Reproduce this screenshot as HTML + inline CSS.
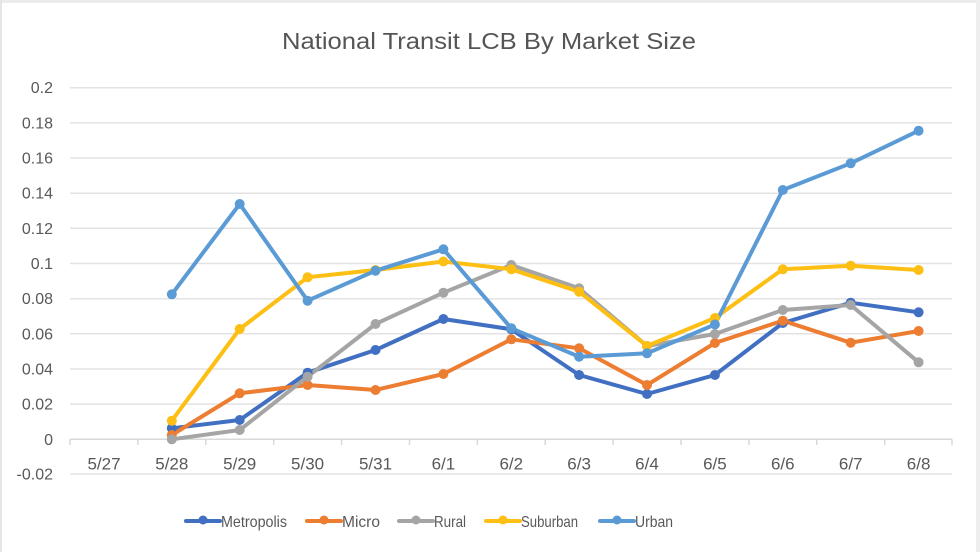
<!DOCTYPE html>
<html>
<head>
<meta charset="utf-8">
<style>
html,body{margin:0;padding:0;background:#fff;}
svg{display:block;}
text{font-family:"Liberation Sans",Arial,sans-serif;}
</style>
</head>
<body>
<svg width="980" height="552" viewBox="0 0 980 552" xmlns="http://www.w3.org/2000/svg">
<rect x="0" y="0" width="980" height="552" fill="#ffffff"/>
<!-- frame -->
<rect x="0" y="0" width="980" height="3" fill="#ececec"/>
<rect x="0" y="0" width="2" height="552" fill="#e6e6e6"/>
<rect x="976" y="0" width="4" height="552" fill="#eeeeee"/>

<!-- title -->
<text x="489" y="49" font-size="23" fill="#555555" text-anchor="middle" textLength="414" lengthAdjust="spacingAndGlyphs">National Transit LCB By Market Size</text>

<!-- gridlines -->
<g stroke="#e3e3e3" stroke-width="1.5">
<line x1="70" y1="87.7" x2="952" y2="87.7"/>
<line x1="70" y1="122.9" x2="952" y2="122.9"/>
<line x1="70" y1="158.0" x2="952" y2="158.0"/>
<line x1="70" y1="193.2" x2="952" y2="193.2"/>
<line x1="70" y1="228.3" x2="952" y2="228.3"/>
<line x1="70" y1="263.5" x2="952" y2="263.5"/>
<line x1="70" y1="298.7" x2="952" y2="298.7"/>
<line x1="70" y1="333.8" x2="952" y2="333.8"/>
<line x1="70" y1="369.0" x2="952" y2="369.0"/>
<line x1="70" y1="404.1" x2="952" y2="404.1"/>
<line x1="70" y1="474.0" x2="952" y2="474.0"/>
</g>
<!-- zero axis -->
<line x1="70" y1="439.3" x2="952" y2="439.3" stroke="#d9d9d9" stroke-width="1.5"/>
<g stroke="#d9d9d9" stroke-width="1.5">
<line x1="70" y1="439.3" x2="70" y2="445"/>
<line x1="137.9" y1="439.3" x2="137.9" y2="445"/>
<line x1="205.8" y1="439.3" x2="205.8" y2="445"/>
<line x1="273.7" y1="439.3" x2="273.7" y2="445"/>
<line x1="341.6" y1="439.3" x2="341.6" y2="445"/>
<line x1="409.5" y1="439.3" x2="409.5" y2="445"/>
<line x1="477.4" y1="439.3" x2="477.4" y2="445"/>
<line x1="545.2" y1="439.3" x2="545.2" y2="445"/>
<line x1="613.1" y1="439.3" x2="613.1" y2="445"/>
<line x1="681.0" y1="439.3" x2="681.0" y2="445"/>
<line x1="748.9" y1="439.3" x2="748.9" y2="445"/>
<line x1="816.8" y1="439.3" x2="816.8" y2="445"/>
<line x1="884.7" y1="439.3" x2="884.7" y2="445"/>
<line x1="952" y1="439.3" x2="952" y2="445"/>
</g>

<!-- y labels -->
<g font-size="16" fill="#595959" text-anchor="end">
<text x="53" y="93.2">0.2</text>
<text x="53" y="128.4">0.18</text>
<text x="53" y="163.5">0.16</text>
<text x="53" y="198.7">0.14</text>
<text x="53" y="233.8">0.12</text>
<text x="53" y="269.0">0.1</text>
<text x="53" y="304.2">0.08</text>
<text x="53" y="339.3">0.06</text>
<text x="53" y="374.5">0.04</text>
<text x="53" y="409.6">0.02</text>
<text x="53" y="444.8">0</text>
<text x="53" y="479.5">-0.02</text>
</g>

<!-- x labels -->
<g font-size="17" fill="#595959" text-anchor="middle">
<text x="104" y="469.5">5/27</text>
<text x="171.8" y="469.5">5/28</text>
<text x="239.7" y="469.5">5/29</text>
<text x="307.6" y="469.5">5/30</text>
<text x="375.5" y="469.5">5/31</text>
<text x="443.4" y="469.5">6/1</text>
<text x="511.3" y="469.5">6/2</text>
<text x="579.1" y="469.5">6/3</text>
<text x="647" y="469.5">6/4</text>
<text x="714.9" y="469.5">6/5</text>
<text x="782.8" y="469.5">6/6</text>
<text x="850.7" y="469.5">6/7</text>
<text x="918.6" y="469.5">6/8</text>
</g>

<!-- series -->
<g fill="none" stroke-width="4" stroke-linejoin="round" stroke-linecap="round">
<!-- Metropolis -->
<polyline stroke="#4170c2" points="171.8,428.3 239.7,420 307.6,372.7 375.5,350 443.4,319 511.3,329.3 579.1,375 647,394 714.9,375 782.8,323 850.7,302.7 918.6,312.3"/>
<!-- Micro -->
<polyline stroke="#ed7d31" points="171.8,435 239.7,393.3 307.6,385 375.5,390 443.4,374 511.3,339.3 579.1,348.3 647,385 714.9,343 782.8,320.7 850.7,342.7 918.6,331"/>
<!-- Rural -->
<polyline stroke="#a5a5a5" points="171.8,439.3 239.7,430 307.6,376.7 375.5,324 443.4,292.7 511.3,265 579.1,288.3 647,346 714.9,334 782.8,310 850.7,305 918.6,362.3"/>
<!-- Suburban -->
<polyline stroke="#fdbf13" points="171.8,420.7 239.7,329 307.6,277.3 375.5,270 443.4,261.5 511.3,269.3 579.1,291.7 647,346 714.9,318 782.8,269.3 850.7,265.7 918.6,270"/>
<!-- Urban -->
<polyline stroke="#5b9bd5" points="171.8,294.3 239.7,204 307.6,300.7 375.5,270.7 443.4,249.3 511.3,328.3 579.1,356.7 647,353.3 714.9,324.5 782.8,190 850.7,163.3 918.6,130.7"/>
</g>
<!-- markers -->
<g fill="#4170c2">
<circle cx="171.8" cy="428.3" r="5"/><circle cx="239.7" cy="420" r="5"/><circle cx="307.6" cy="372.7" r="5"/><circle cx="375.5" cy="350" r="5"/><circle cx="443.4" cy="319" r="5"/><circle cx="511.3" cy="329.3" r="5"/><circle cx="579.1" cy="375" r="5"/><circle cx="647" cy="394" r="5"/><circle cx="714.9" cy="375" r="5"/><circle cx="782.8" cy="323" r="5"/><circle cx="850.7" cy="302.7" r="5"/><circle cx="918.6" cy="312.3" r="5"/>
</g>
<g fill="#ed7d31">
<circle cx="171.8" cy="435" r="5"/><circle cx="239.7" cy="393.3" r="5"/><circle cx="307.6" cy="385" r="5"/><circle cx="375.5" cy="390" r="5"/><circle cx="443.4" cy="374" r="5"/><circle cx="511.3" cy="339.3" r="5"/><circle cx="579.1" cy="348.3" r="5"/><circle cx="647" cy="385" r="5"/><circle cx="714.9" cy="343" r="5"/><circle cx="782.8" cy="320.7" r="5"/><circle cx="850.7" cy="342.7" r="5"/><circle cx="918.6" cy="331" r="5"/>
</g>
<g fill="#a5a5a5">
<circle cx="171.8" cy="439.3" r="5"/><circle cx="239.7" cy="430" r="5"/><circle cx="307.6" cy="376.7" r="5"/><circle cx="375.5" cy="324" r="5"/><circle cx="443.4" cy="292.7" r="5"/><circle cx="511.3" cy="265" r="5"/><circle cx="579.1" cy="288.3" r="5"/><circle cx="647" cy="346" r="5"/><circle cx="714.9" cy="334" r="5"/><circle cx="782.8" cy="310" r="5"/><circle cx="850.7" cy="305" r="5"/><circle cx="918.6" cy="362.3" r="5"/>
</g>
<g fill="#fdbf13">
<circle cx="171.8" cy="420.7" r="5"/><circle cx="239.7" cy="329" r="5"/><circle cx="307.6" cy="277.3" r="5"/><circle cx="375.5" cy="270" r="5"/><circle cx="443.4" cy="261.5" r="5"/><circle cx="511.3" cy="269.3" r="5"/><circle cx="579.1" cy="291.7" r="5"/><circle cx="647" cy="346" r="5"/><circle cx="714.9" cy="318" r="5"/><circle cx="782.8" cy="269.3" r="5"/><circle cx="850.7" cy="265.7" r="5"/><circle cx="918.6" cy="270" r="5"/>
</g>
<g fill="#5b9bd5">
<circle cx="171.8" cy="294.3" r="5"/><circle cx="239.7" cy="204" r="5"/><circle cx="307.6" cy="300.7" r="5"/><circle cx="375.5" cy="270.7" r="5"/><circle cx="443.4" cy="249.3" r="5"/><circle cx="511.3" cy="328.3" r="5"/><circle cx="579.1" cy="356.7" r="5"/><circle cx="647" cy="353.3" r="5"/><circle cx="714.9" cy="324.5" r="5"/><circle cx="782.8" cy="190" r="5"/><circle cx="850.7" cy="163.3" r="5"/><circle cx="918.6" cy="130.7" r="5"/>
</g>

<!-- legend -->
<g stroke-width="4" stroke-linecap="round">
<line x1="186" y1="521" x2="220" y2="521" stroke="#4170c2"/>
<line x1="307" y1="521" x2="341" y2="521" stroke="#ed7d31"/>
<line x1="399" y1="521" x2="433" y2="521" stroke="#a5a5a5"/>
<line x1="486" y1="521" x2="520" y2="521" stroke="#fdbf13"/>
<line x1="600" y1="521" x2="634" y2="521" stroke="#5b9bd5"/>
</g>
<circle cx="203" cy="520" r="4.5" fill="#4170c2"/>
<circle cx="324" cy="520" r="4.5" fill="#ed7d31"/>
<circle cx="416" cy="520" r="4.5" fill="#a5a5a5"/>
<circle cx="503" cy="520" r="4.5" fill="#fdbf13"/>
<circle cx="617" cy="520" r="4.5" fill="#5b9bd5"/>
<g font-size="16" fill="#595959">
<text x="221" y="527" textLength="66" lengthAdjust="spacingAndGlyphs">Metropolis</text>
<text x="342" y="527" textLength="38" lengthAdjust="spacingAndGlyphs">Micro</text>
<text x="434" y="527" textLength="32" lengthAdjust="spacingAndGlyphs">Rural</text>
<text x="521" y="527" textLength="57" lengthAdjust="spacingAndGlyphs">Suburban</text>
<text x="635" y="527" textLength="38" lengthAdjust="spacingAndGlyphs">Urban</text>
</g>
</svg>
</body>
</html>
